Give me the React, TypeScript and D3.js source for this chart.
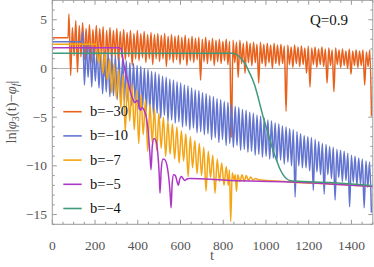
import React from "react";
import * as d3 from "d3";

type P = [number, number];

// b = -30 : flat start, then oscillation peaks (every 16 from t=78) and troughs (between peaks)
const b30Start: P[] = [[0, 3.16], [74, 3.16]];
const b30T0 = 78;
const b30Period = 16;
const b30Peaks = [
  5.6,4.2,4.9,4.4,4.7,4.1,4.5,4.0,4.4,4.1,4.3,3.9,4.2,3.9,4.1,3.8,4.0,3.7,3.9,3.6,
  3.9,3.6,3.8,3.5,3.7,3.5,3.6,3.4,3.6,3.3,3.5,3.3,3.4,3.2,3.4,3.1,3.3,3.1,3.2,3.0,
  3.2,2.9,3.1,2.9,3.0,2.8,3.0,2.8,2.9,2.7,2.9,2.6,2.8,2.6,2.7,2.5,2.7,2.5,2.6,2.4,
  2.6,2.4,2.5,2.3,2.4,2.2,2.4,2.2,2.3,2.1,2.3,2.1,2.2,2.0,2.2,2.0,2.1,1.9,2.1,1.9,
  2.0,1.8,2.0,1.8,1.9,1.8,1.9,1.7,1.9,
];
const b30Troughs = [
  -0.7,1.3,-0.4,1.2,0.9,1.4,0.6,1.3,1.0,1.3,-0.8,1.2,0.8,1.3,0.5,1.1,0.9,1.2,0.3,1.0,
  0.8,1.1,0.6,1.0,0.4,1.0,0.7,1.0,0.2,0.9,0.6,0.9,0.4,0.9,0.3,0.8,0.6,0.9,-1.2,0.7,
  0.5,0.8,0.3,0.7,0.5,0.8,0.4,-7.1,0.6,-0.9,0.5,-0.5,0.6,0.3,0.6,-1.5,0.5,0.2,0.6,0.0,
  0.5,0.3,0.5,-4.4,0.4,0.1,0.5,0.2,0.4,-0.5,-1.9,0.4,0.1,0.4,0.2,-1.5,0.3,-2.4,0.4,0.1,
  0.3,0.0,-0.6,0.3,0.1,0.3,-1.7,0.2,-4.9,
];

// b = -10
const b10Start: P[] = [[0, 2.75], [136, 2.75]];
const b10T0 = 142;
const b10Period = 17;
const b10Peaks = [
  3.8,2.5,2.4,2.2,2.0,1.9,1.7,1.6,1.4,1.3,1.1,1.0,0.8,0.6,0.5,0.3,0.2,0.0,-0.1,-0.3,
  -0.4,-0.6,-0.8,-0.9,-1.1,-1.2,-1.4,-1.5,-1.7,-1.8,-2.0,-2.2,-2.3,-2.5,-2.6,-2.8,-2.9,-3.1,-3.2,-3.4,
  -3.5,-3.7,-3.9,-4.0,-4.2,-4.3,-4.5,-4.6,-4.8,-4.9,-5.1,-5.3,-5.4,-5.6,-5.7,-5.9,-6.0,-6.2,-6.3,-6.5,
  -6.7,-6.9,-7.0,-7.1,-7.3,-7.5,-7.7,-7.8,-8.0,-8.1,-8.3,-8.4,-8.5,-8.7,-8.9,-9.0,-9.2,-9.3,-9.5,-9.6,
];
const b10Troughs = [
  -1.7,-0.9,-1.9,-1.3,-2.0,-2.6,-2.4,-2.9,-2.8,-3.2,-3.0,-3.4,-3.4,-3.8,-3.6,-4.2,-4.0,-4.4,-4.2,-4.8,
  -4.6,-5.1,-4.8,-5.4,-5.3,-5.6,-5.5,-6.0,-5.9,-6.3,-6.1,-6.6,-6.5,-6.8,-6.7,-7.3,-7.1,-7.6,-7.3,-7.9,
  -7.7,-8.1,-7.9,-8.4,-8.3,-8.6,-8.5,-8.9,-8.8,-9.1,-9.0,-9.3,-9.2,-9.5,-9.4,-9.8,-9.6,-10.0,-13.2,-10.0,
  -10.2,-10.2,-10.5,-12.5,-10.6,-10.9,-12.9,-10.9,-11.3,-13.5,-11.2,-11.6,-11.5,-14.2,-11.7,-12.0,-11.9,-14.3,-12.2,-14.8,
];

// b = -7
const seriesB7: P[] = [
  [0,2.5],[200,2.5],
  [205,2.5],[215.5,0.6],[226,2.0],[236.5,-0.5],[247,1.5],[257.5,-1.2],[268,1.0],[278.5,-2.5],[289,0.5],[299.5,-3.0],[310,-0.1],[320.5,-4.0],[331,-0.6],[341.5,-6.5],[352,-1.1],[362.5,-5.4],[373,-1.6],[383.5,-6.3],[394,-2.2],[404.5,-7.7],[415,-2.7],[425.5,-6.8],[436,-3.2],[446.5,-8.5],[457,-3.7],[467.5,-7.6],[478,-4.1],[488.5,-8.4],[499,-4.6],[509.5,-8.2],[520,-5.0],[530.5,-9.0],[541,-5.4],[551.5,-8.8],[562,-5.7],[572.5,-9.3],[583,-6.0],[593.5,-9.7],[604,-6.4],[614.5,-9.5],[625,-6.7],[635.5,-11.1],[646,-7.0],[656.5,-10.2],[667,-7.4],[677.5,-10.8],[688,-7.7],[698.5,-11.0],[709,-8.1],[719.5,-12.6],[730,-8.5],[740.5,-11.2],[751,-8.9],[761.5,-12.8],[772,-9.3],[782.5,-11.6],[793,-9.7],[803.5,-12.0],[814,-10.1],[824,-12.0],[829,-10.4],[835,-15.7],[842,-10.7],[850,-11.4],[856,-10.9],[862,-12.6],[868,-10.9],[878,-11.6],[888,-10.9],[898,-11.6],[908,-11.0],[918,-11.5],[928,-11.15],[940,-11.45],[952,-11.3],[965,-11.42],[1000,-11.5],[1100,-11.62],[1111,-11.65],[1300,-11.85],[1500,-12.12],
];

// b = -5
const seriesB5: P[] = [
  [0,2.14],[315,2.14],[322,2.0],[328,1.4],[335,0.4],[342,-0.4],[350,-1.0],[358,-1.7],[366,-2.4],[376,-3.1],[386,-3.5],[396,-3.3],[404,-3.6],[412,-4.3],[420,-4.0],[430,-4.3],[440,-5.0],[448,-6.3],[456,-8.5],[462,-10.4],[468,-8.0],[476,-7.2],[486,-7.5],[494,-8.8],[500,-10.7],[504,-12.8],[510,-10.3],[518,-9.3],[528,-9.4],[538,-10.1],[546,-11.4],[552,-13.0],[556,-14.3],[561,-11.8],[568,-10.9],[576,-11.0],[584,-11.6],[590,-12.0],[596,-11.4],[604,-11.1],[612,-11.3],[620,-11.5],[630,-11.35],[640,-11.3],[831,-11.5],[1111,-11.65],[1300,-11.85],[1500,-12.12],
];

// b = -4
const seriesB4: P[] = [
  [0,1.56],[840,1.56],[855,1.5],[868,1.35],[880,1.1],[892,0.8],[905,0.4],[920,-0.3],[935,-1.0],[947,-1.7],[960,-2.7],[973,-3.8],[986,-4.9],[1002,-6.1],[1018,-7.3],[1033,-8.4],[1049,-9.4],[1065,-10.3],[1080,-10.9],[1095,-11.3],[1111,-11.5],[1130,-11.55],[1300,-11.72],[1500,-12.03],
];

const labels = ["b=\u221230", "b=\u221210", "b=\u22127", "b=\u22125", "b=\u22124"];
const colors = ["#E8621E", "#6274D0", "#F5A514", "#AE38C6", "#3F9A7A"];

const xMajor = [0, 200, 400, 600, 800, 1000, 1200, 1400];
const yMajor = [-15, -10, -5, 0, 5];
const xMinor = d3.range(0, 1501, 50);
const yMinor = d3.range(-16, 8, 1);

function oscillation(start: P[], t0: number, period: number, peaks: number[], troughs: number[]): P[] {
  const pts: P[] = [...start];
  peaks.forEach((h, i) => {
    pts.push([t0 + i * period, h]);
    if (i < troughs.length) pts.push([t0 + i * period + period / 2, troughs[i]]);
  });
  return pts;
}

const seriesB30 = oscillation(b30Start, b30T0, b30Period, b30Peaks, b30Troughs);
const seriesB10 = oscillation(b10Start, b10T0, b10Period, b10Peaks, b10Troughs);
const seriesData = [seriesB30, seriesB10, seriesB7, seriesB5, seriesB4];

const fmt = (v: number) => (v < 0 ? "\u2212" + Math.abs(v) : String(v));

export default function App() {
  const W = 374, H = 267;
  const L = 52.3, R = 372.8, T = 0.3, B = 224.3;
  const x = d3.scaleLinear().domain([0, 1500]).range([L, R]);
  const y = d3.scaleLinear().domain([-16, 7]).range([B, T]);
  const frameCol = "#9a9a9a";
  const tickCol = "#555";
  const serif = "'Liberation Serif', 'Times New Roman', serif";

  const lineGen = d3.line<P>().x(d => x(d[0])).y(d => y(d[1])).curve(d3.curveMonotoneX);

  return (
    <svg width={W} height={H} style={{ position: "absolute", left: 0, top: 0, background: "#fff" }}>
      <defs>
        <clipPath id="plotclip">
          <rect x={L} y={T} width={R - L} height={B - T} />
        </clipPath>
      </defs>
      <line x1={L} x2={R} y1={y(0)} y2={y(0)} stroke="#b5b5b5" strokeWidth={1} />
      <g clipPath="url(#plotclip)">
        {seriesData.map((d, i) => (
          <path key={i} d={lineGen(d) || ""} fill="none" stroke={colors[i]} strokeWidth={1.5} strokeLinejoin="round" />
        ))}
      </g>
      <rect x={L} y={T} width={R - L} height={B - T} fill="none" stroke={frameCol} strokeWidth={1} />
      {xMinor.map(v => {
        const major = v % 200 === 0;
        const len = major ? 4.5 : 2.5;
        return (
          <g key={"xt" + v}>
            <line x1={x(v)} x2={x(v)} y1={B} y2={B - len} stroke={frameCol} />
            <line x1={x(v)} x2={x(v)} y1={T} y2={T + len} stroke={frameCol} />
          </g>
        );
      })}
      {yMinor.map(v => {
        const major = v % 5 === 0;
        const len = major ? 4.5 : 2.5;
        return (
          <g key={"yt" + v}>
            <line x1={L} x2={L + len} y1={y(v)} y2={y(v)} stroke={frameCol} />
            <line x1={R} x2={R - len} y1={y(v)} y2={y(v)} stroke={frameCol} />
          </g>
        );
      })}
      {xMajor.map(v => (
        <text key={"xl" + v} x={x(v)} y={249.5} textAnchor="middle" fontFamily={serif} fontSize={13.5} fill={tickCol}>
          {fmt(v)}
        </text>
      ))}
      {yMajor.map(v => (
        <text key={"yl" + v} x={47} y={y(v) + 4.5} textAnchor="end" fontFamily={serif} fontSize={13.5} fill={tickCol}>
          {fmt(v)}
        </text>
      ))}
      <text x={212} y={260} textAnchor="middle" fontFamily={serif} fontSize={14.5} fill={tickCol}>t</text>
      <text transform="translate(16,112) rotate(-90)" textAnchor="middle" fontFamily={serif} fontSize={14.5} fill={tickCol}>
        ln|<tspan fontStyle="italic">φ</tspan><tspan fontSize={10} dy={3}>3</tspan><tspan dy={-3}>(t)−</tspan><tspan fontStyle="italic">φ</tspan><tspan fontSize={10} fontStyle="italic" dy={3}>f</tspan><tspan dy={-3}>|</tspan>
      </text>
      <text x={310} y={24.5} fontFamily={serif} fontSize={15} fill="#111">Q=0.9</text>
      {labels.map((lab, i) => {
        const ly = 111.7 + 24.2 * i;
        return (
          <g key={"lg" + i}>
            <line x1={63.3} x2={81.7} y1={ly} y2={ly} stroke={colors[i]} strokeWidth={1.6} />
            <text x={90} y={ly + 4.5} fontFamily={serif} fontSize={14.5} fill="#111">{lab}</text>
          </g>
        );
      })}
    </svg>
  );
}
